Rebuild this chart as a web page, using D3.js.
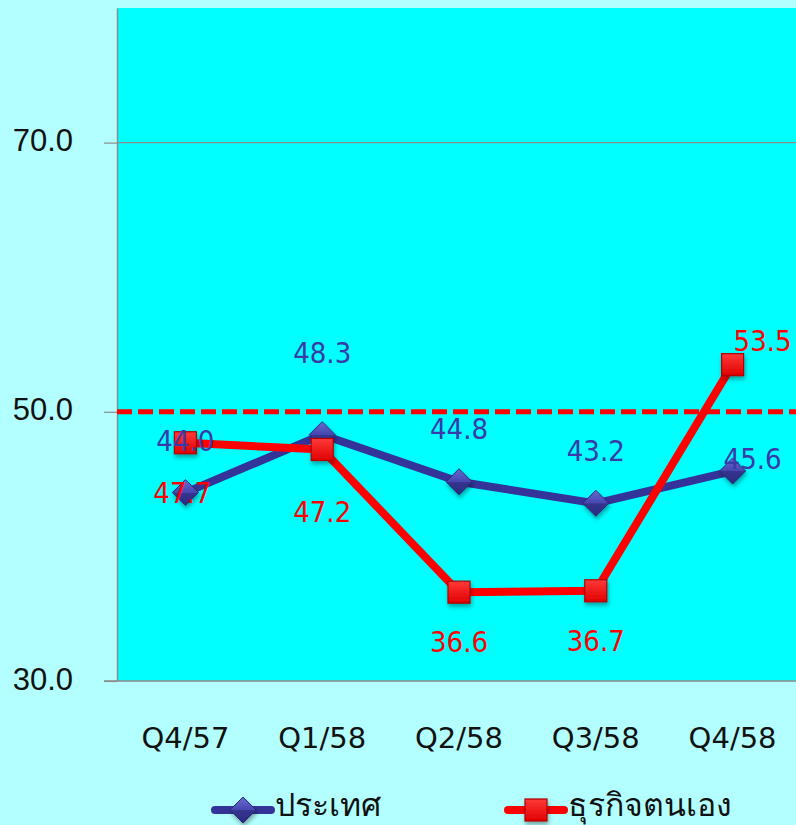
<!DOCTYPE html>
<html>
<head>
<meta charset="utf-8">
<script src="https://cdn.jsdelivr.net/npm/d3@7"></script>
<style>
  html, body { margin: 0; padding: 0; background: #b3ffff; }
  svg { display: block; }
</style>
</head>
<body>
<svg id="chart" width="796" height="825"></svg>
<script>
// Quarterly index values
const quarters = ["Q4/57", "Q1/58", "Q2/58", "Q3/58", "Q4/58"];
const countryValues = [44.0, 48.3, 44.8, 43.2, 45.6];   // ประเทศ
const businessValues = [47.7, 47.2, 36.6, 36.7, 53.5];  // ธุรกิจตนเอง
const seriesNames = ["ประเทศ", "ธุรกิจตนเอง"];
const yTicks = [30, 50, 70];
const threshold = 50;

// Where each value label sits relative to its point (dx, dy to baseline)
const countryLabelOffsets = [[0, -42], [0, -72], [0, -43], [0, -42], [20, -2]];
const businessLabelOffsets = [[-3, 60], [0, 73], [0, 60], [0, 60], [30, -14]];

const svg = d3.select("#chart");
const W = 796, H = 825;
const plot = { left: 117, top: 8, right: 801, bottom: 681 };

const x = d3.scalePoint().domain(quarters).range([plot.left, plot.right]).padding(0.5);
const y = d3.scaleLinear().domain([30, 80]).range([plot.bottom, plot.top]);

const defs = svg.append("defs");
const diamondGrad = defs.append("linearGradient").attr("id", "diamondGrad")
  .attr("x1", "0").attr("y1", "0").attr("x2", "0").attr("y2", "1");
diamondGrad.append("stop").attr("offset", "0").attr("stop-color", "#6a6ad0");
diamondGrad.append("stop").attr("offset", "0.5").attr("stop-color", "#4646b0");
diamondGrad.append("stop").attr("offset", "0.51").attr("stop-color", "#35358f");
diamondGrad.append("stop").attr("offset", "1").attr("stop-color", "#2a2a80");
const squareGrad = defs.append("linearGradient").attr("id", "squareGrad")
  .attr("x1", "0").attr("y1", "0").attr("x2", "0").attr("y2", "1");
squareGrad.append("stop").attr("offset", "0").attr("stop-color", "#ff3a3a");
squareGrad.append("stop").attr("offset", "1").attr("stop-color", "#e00000");
const shadow = defs.append("filter").attr("id", "shadow")
  .attr("x", "-50%").attr("y", "-50%").attr("width", "200%").attr("height", "200%");
shadow.append("feDropShadow").attr("dx", 1).attr("dy", 3).attr("stdDeviation", 2)
  .attr("flood-color", "#000").attr("flood-opacity", 0.35);

// Plot background
svg.append("rect")
  .attr("x", plot.left).attr("y", plot.top)
  .attr("width", W - plot.left).attr("height", plot.bottom - plot.top)
  .attr("fill", "#00ffff");

// Gridlines
svg.append("g").selectAll("line")
  .data(yTicks.filter(t => t !== threshold && t !== 30))
  .join("line")
  .attr("x1", plot.left).attr("x2", W)
  .attr("y1", d => y(d)).attr("y2", d => y(d))
  .attr("stroke", "#8c8c8c").attr("stroke-width", 1.2);

// Y axis
const yAxis = svg.append("g")
  .attr("transform", `translate(${plot.left},0)`)
  .call(d3.axisLeft(y).tickValues(yTicks).tickFormat(d3.format(".1f"))
    .tickSizeInner(13).tickSizeOuter(0).tickPadding(31));
yAxis.select(".domain").attr("stroke", "#8c8c8c").attr("stroke-width", 1.5);
yAxis.selectAll(".tick line").attr("stroke", "#8c8c8c").attr("stroke-width", 1.2);
yAxis.selectAll(".tick text")
  .attr("font-family", "'Liberation Sans', Arial, sans-serif")
  .attr("font-size", 31).attr("fill", "#111").attr("dy", "0.26em");

// X axis line and labels
svg.append("line")
  .attr("x1", plot.left - 13).attr("x2", W)
  .attr("y1", plot.bottom).attr("y2", plot.bottom)
  .attr("stroke", "#8c8c8c").attr("stroke-width", 1.5);
svg.append("g").selectAll("text")
  .data(quarters)
  .join("text")
  .attr("x", d => x(d)).attr("y", 748)
  .attr("text-anchor", "middle")
  .attr("font-family", "'DejaVu Sans', Tahoma, sans-serif")
  .attr("font-size", 29).attr("fill", "#111")
  .text(d => d);

// Threshold at 50
svg.append("line")
  .attr("x1", plot.left).attr("x2", W)
  .attr("y1", y(threshold)).attr("y2", y(threshold))
  .attr("stroke", "#ff0000").attr("stroke-width", 5)
  .attr("stroke-dasharray", "15 6");

const line = d3.line().x((d, i) => x(quarters[i])).y(d => y(d));

function diamond(g, cx, cy, r) {
  g.append("path")
    .attr("d", `M${cx},${cy - r}L${cx + r},${cy}L${cx},${cy + r}L${cx - r},${cy}Z`)
    .attr("fill", "url(#diamondGrad)").attr("stroke", "#2a2a78").attr("stroke-width", 1)
    .attr("filter", "url(#shadow)");
}
function square(g, cx, cy, s) {
  g.append("rect")
    .attr("x", cx - s / 2).attr("y", cy - s / 2).attr("width", s).attr("height", s)
    .attr("fill", "url(#squareGrad)").attr("stroke", "#b00000").attr("stroke-width", 1.2)
    .attr("filter", "url(#shadow)");
}

// Country series
svg.append("path").datum(countryValues)
  .attr("d", line).attr("fill", "none")
  .attr("stroke", "#333399").attr("stroke-width", 8).attr("stroke-linejoin", "round");
const countryMarks = svg.append("g");
countryValues.forEach((v, i) => diamond(countryMarks, x(quarters[i]), y(v), 13));

// Business series
svg.append("path").datum(businessValues)
  .attr("d", line).attr("fill", "none")
  .attr("stroke", "#ff0000").attr("stroke-width", 8).attr("stroke-linejoin", "round");
const businessMarks = svg.append("g");
businessValues.forEach((v, i) => square(businessMarks, x(quarters[i]), y(v), 22));

// Value labels
const labelFont = "'DejaVu Sans Condensed', Tahoma, sans-serif";
svg.append("g").selectAll("text")
  .data(countryValues)
  .join("text")
  .attr("x", (d, i) => x(quarters[i]) + countryLabelOffsets[i][0])
  .attr("y", (d, i) => y(d) + countryLabelOffsets[i][1])
  .attr("text-anchor", "middle")
  .attr("font-family", labelFont).attr("font-size", 29)
  .attr("fill", "#3a3aa8")
  .text(d => d.toFixed(1));
svg.append("g").selectAll("text")
  .data(businessValues)
  .join("text")
  .attr("x", (d, i) => x(quarters[i]) + businessLabelOffsets[i][0])
  .attr("y", (d, i) => y(d) + businessLabelOffsets[i][1])
  .attr("text-anchor", "middle")
  .attr("font-family", labelFont).attr("font-size", 29)
  .attr("fill", "#ff0000")
  .text(d => d.toFixed(1));

// Legend
const legend = svg.append("g");
const legendItems = [
  { name: seriesNames[0], x0: 215, color: "#333399", mark: "diamond" },
  { name: seriesNames[1], x0: 508, color: "#ff0000", mark: "square" }
];
legendItems.forEach(item => {
  const ly = 810;
  legend.append("line")
    .attr("x1", item.x0).attr("x2", item.x0 + 56)
    .attr("y1", ly).attr("y2", ly)
    .attr("stroke", item.color).attr("stroke-width", 8).attr("stroke-linecap", "round");
  if (item.mark === "diamond") diamond(legend, item.x0 + 28, ly, 13);
  else square(legend, item.x0 + 28, ly, 22);
  legend.append("text")
    .attr("x", item.x0 + 60).attr("y", 816)
    .attr("font-family", "Tahoma, 'Noto Sans', sans-serif")
    .attr("font-size", 32).attr("fill", "#111")
    .text(item.name);
});
</script>
</body>
</html>
